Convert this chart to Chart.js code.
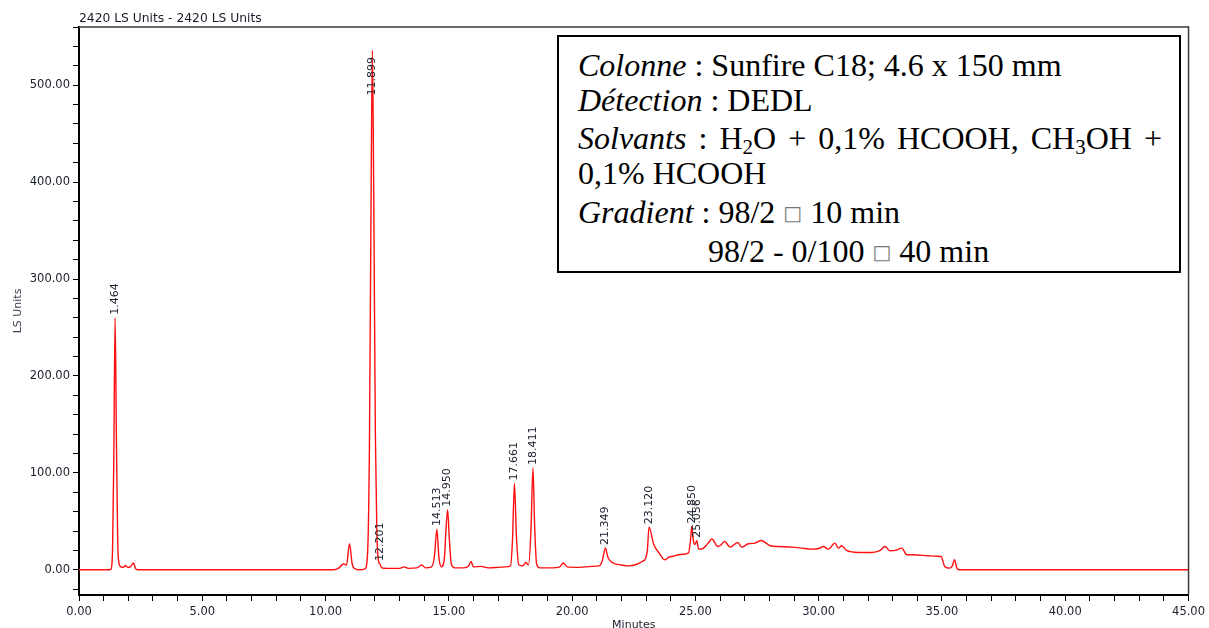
<!DOCTYPE html>
<html>
<head>
<meta charset="utf-8">
<script src="https://cdn.jsdelivr.net/npm/chart.js@4"></script>
<style>
	html, body { margin: 0; padding: 0; background: #fff; overflow: hidden; }
	#chromato { position: absolute; left: 0; top: 0; }
	#conditions {
		position: absolute; left: 557px; top: 35px; width: 624px; height: 238px;
		box-sizing: border-box; border: 2px solid #000; background: #fff;
	}
	.ln {
		position: absolute; left: 578px; white-space: nowrap;
		font: 32px/37px "Liberation Serif", "Times New Roman", serif; color: #000;
	}
	.ln sub { font-size: 21px; vertical-align: -5px; line-height: 0; }
	.ln .nog { font: 20px "DejaVu Sans", sans-serif; color: #777; vertical-align: 3px; }
</style>
</head>
<body>
<canvas id="chromato" width="1209" height="628"></canvas>

<div id="conditions"></div>
<div class="ln" style="top:47px"><i>Colonne</i> : Sunfire C18; 4.6 x 150 mm</div>
<div class="ln" style="top:82px"><i>Détection</i> : DEDL</div>
<div class="ln" style="top:120px; width:584px; text-align:justify; text-align-last:justify;"><i>Solvants</i> : H<sub>2</sub>O + 0,1% HCOOH, CH<sub>3</sub>OH +</div>
<div class="ln" style="top:155px">0,1% HCOOH</div>
<div class="ln" style="top:194px"><i>Gradient</i> : 98/2 <span class="nog">□</span> 10 min</div>
<div class="ln" style="top:233px; left:708px">98/2 - 0/100 <span class="nog">□</span> 40 min</div>

<script>
// Signal (minutes / LS units).
const traceTime = [
	0, 1.0, 1.25, 1.30, 1.36, 1.41, 1.464, 1.52, 1.57, 1.62, 1.70, 1.80, 1.88, 1.98, 2.08, 2.21, 2.30, 2.40,
	5.0, 8.0, 10.3, 10.55, 10.72, 10.85, 10.97, 11.08, 11.2, 11.4, 11.6, 11.70, 11.78, 11.85, 11.899, 11.95,
	12.02, 12.08, 12.14, 12.201, 12.28, 12.5, 13.0, 13.2, 13.35, 13.7, 13.9, 14.05, 14.3, 14.42, 14.513,
	14.60, 14.70, 14.82, 14.88, 14.95, 15.02, 15.10, 15.25, 15.6, 15.8, 15.9, 16.0, 16.3, 16.6, 17.0, 17.3,
	17.5, 17.58, 17.661, 17.74, 17.84, 18.0, 18.12, 18.23, 18.33, 18.411, 18.48, 18.56, 18.7, 19.2, 19.5,
	19.64, 19.8, 20.3, 20.8, 21.1, 21.22, 21.349, 21.45, 21.63, 22.0, 22.3, 22.6, 22.84, 22.98, 23.05, 23.12,
	23.31, 23.51, 23.76, 23.92, 24.1, 24.32, 24.5, 24.72, 24.80, 24.85, 24.93, 24.98, 25.056, 25.13, 25.33,
	25.5, 25.67, 25.91, 26.05, 26.18, 26.41, 26.72, 26.88, 27.15, 27.4, 27.67, 28.03, 28.37, 28.9, 29.31,
	29.71, 30.0, 30.19, 30.39, 30.66, 30.8, 30.93, 31.13, 31.61, 32.15, 32.5, 32.69, 32.89, 33.1, 33.37,
	33.57, 33.76, 34.43, 34.8, 34.97, 35.05, 35.11, 35.31, 35.42, 35.51, 35.6, 35.7, 40.0, 45.0
];
const traceSignal = [
	0, 0, 0, 1, 20, 110, 260, 130, 30, 7, 3, 2.5, 4.5, 2.5, 3, 7, 1, 0,
	0, 0, 0, 2, 6, 5, 27, 6, 1, 0, 1, 15, 130, 400, 536, 400,
	140, 40, 10, 6, 2, 1.5, 1.5, 3, 1.5, 2, 5, 2, 3, 15, 42,
	12, 3, 12, 40, 62, 32, 6, 2, 2, 4, 8.5, 3, 3.5, 2, 2.5, 3,
	4, 30, 89, 35, 5, 4, 7.5, 5, 40, 105, 45, 6, 2, 2, 3,
	7, 3, 2.5, 3.5, 4, 9, 22.5, 13, 7.5, 5, 4, 5.5, 8.6, 12, 20, 44,
	26, 18, 10.3, 13, 14, 15.5, 16, 17.5, 30, 44.7, 28, 26, 30, 21.3, 22.4,
	27, 31.7, 24, 26, 29.3, 23.4, 28.2, 23.4, 26.9, 27.5, 30.3, 24.8, 24, 23.4, 22.4,
	21.3, 22, 24, 21.3, 27.5, 22.4, 24.8, 20, 17.9, 17.9, 20, 24, 19.6, 20, 22.4,
	15.5, 15.5, 14.5, 14, 13.7, 8, 3.4, 1.7, 4, 10.3, 2, 0, 0, 0
];

// Retention times printed above the peaks.
const peakTimes = [1.464, 11.899, 12.201, 14.513, 14.950, 17.661, 18.411, 21.349, 23.120, 24.850, 25.056];
const peakLabels = ['1.464', '11.899', '12.201', '14.513', '14.950', '17.661', '18.411', '21.349', '23.120', '24.850', '25.056'];

const headerText = '2420 LS Units - 2420 LS Units';
const xTitle = 'Minutes';
const yTitle = 'LS Units';

const inkColor = '#1a1e2c';

function signalAt( t ) {
	let best = 0;
	for ( let i = 1; i < traceTime.length; i++ ) {
		if ( Math.abs( traceTime[i] - t ) < Math.abs( traceTime[best] - t ) ) {
			best = i;
		}
	}
	return traceSignal[best];
}

// Frame top/right edges, header text and rotated peak labels.
const chromatoDecor = {
	id: 'chromatoDecor',
	afterDatasetsDraw( chart ) {
		const { ctx, chartArea: area, scales: { x, y } } = chart;
		ctx.save();
		ctx.strokeStyle = '#3a3a3a';
		ctx.lineWidth = 1.5;
		ctx.beginPath();
		ctx.moveTo( area.left, area.top );
		ctx.lineTo( area.right, area.top );
		ctx.lineTo( area.right, area.bottom );
		ctx.stroke();

		ctx.fillStyle = inkColor;
		ctx.font = '12.3px "DejaVu Sans"';
		ctx.textAlign = 'left';
		ctx.textBaseline = 'middle';
		ctx.fillText( headerText, area.left, 19 );

		ctx.font = '11px "DejaVu Sans"';
		peakTimes.forEach( ( t, i ) => {
			const text = peakLabels[i];
			const w = ctx.measureText( text ).width;
			let start = y.getPixelForValue( signalAt( t ) ) - 3;
			// label pushed down when it would not fit under the frame
			if ( start - w < area.top + 30 ) {
				start = area.top + 30 + w;
			}
			ctx.save();
			ctx.translate( x.getPixelForValue( t ), start );
			ctx.rotate( -Math.PI / 2 );
			ctx.fillText( text, 0, 0 );
			ctx.restore();
		} );
		ctx.restore();
	}
};

Chart.defaults.font.family = '"DejaVu Sans"';
Chart.defaults.font.size = 11.5;
Chart.defaults.color = inkColor;

new Chart( document.getElementById( 'chromato' ), {
	type: 'line',
	data: {
		datasets: [ {
			data: traceTime.map( ( t, i ) => ( { x: t, y: traceSignal[i] } ) ),
			borderColor: '#ff1010',
			borderWidth: 1.4,
			pointRadius: 0,
			cubicInterpolationMode: 'monotone',
			fill: false
		} ]
	},
	options: {
		responsive: false,
		animation: false,
		devicePixelRatio: 1,
		layout: { padding: { top: 27, right: 17, left: 0, bottom: 0 } },
		plugins: {
			legend: { display: false },
			tooltip: { enabled: false }
		},
		scales: {
			x: {
				type: 'linear',
				min: 0,
				max: 45,
				afterFit: ( scale ) => { scale.height = 33; },
				ticks: {
					stepSize: 1,
					autoSkip: false,
					maxRotation: 0,
					includeBounds: false,
					padding: 4,
					color: inkColor,
					callback: ( v ) => ( v % 5 === 0 ? v.toFixed( 2 ) : '' )
				},
				grid: { drawOnChartArea: false, drawTicks: true, tickLength: 6, color: '#000', lineWidth: 1 },
				border: { color: '#000', width: 2 },
				title: {
					display: true,
					text: xTitle,
					color: inkColor,
					font: { size: 11 },
					padding: { top: 0, bottom: -3.6 }
				}
			},
			y: {
				min: -26,
				max: 560,
				afterFit: ( scale ) => { scale.width = 79; },
				ticks: {
					stepSize: 20,
					autoSkip: false,
					includeBounds: false,
					padding: 3,
					color: inkColor,
					callback: ( v ) => ( v % 100 === 0 ? v.toFixed( 2 ) : '' )
				},
				grid: { drawOnChartArea: false, drawTicks: true, tickLength: 6, color: '#000', lineWidth: 1 },
				border: { color: '#000', width: 2 },
				title: {
					display: true,
					text: yTitle,
					color: '#3a4050',
					font: { size: 11 },
					padding: { top: 11.4, bottom: 0 }
				}
			}
		}
	},
	plugins: [ chromatoDecor ]
} );
</script>
</body>
</html>
